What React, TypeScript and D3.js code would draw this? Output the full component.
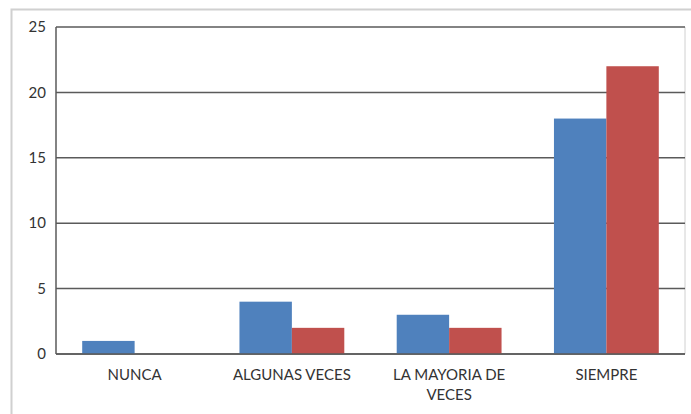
import React from "react";
import * as d3 from "d3";

const categories = ["NUNCA", "ALGUNAS VECES", "LA MAYORIA DE VECES", "SIEMPRE"];
const categoryLines = [["NUNCA"], ["ALGUNAS VECES"], ["LA MAYORIA DE", "VECES"], ["SIEMPRE"]];
const seriesA = [1, 4, 3, 18];
const seriesB = [0, 2, 2, 22];
const yTicks = [0, 5, 10, 15, 20, 25];

const W = 691;
const H = 414;
const left = 56;
const right = 685;
const top = 27;
const bottom = 354;

export default function App() {
  const x = d3.scaleBand<string>().domain(categories).range([left, right]).paddingInner(0).paddingOuter(0);
  const y = d3.scaleLinear().domain([0, 25]).range([bottom, top]);
  const bw = x.bandwidth();
  const inner = d3.scaleBand<string>().domain(["a", "b"]).range([bw / 6, bw - bw / 6]);
  const font = "Lato, 'Open Sans', sans-serif";
  return (
    <svg width={W} height={H} style={{ position: "absolute", left: 0, top: 0, background: "#fff" }}>
      <rect x={11.5} y={9.5} width={720} height={440} fill="#fff" stroke="#d0d0d0" strokeWidth={2} />
      <line x1={right} x2={right} y1={top} y2={bottom} stroke="#d0d0d0" strokeWidth={1} />
      {yTicks.map((t) => (
        <g key={t}>
          <line x1={left} x2={right} y1={y(t)} y2={y(t)} stroke="#5a5a5a" strokeWidth={1.5} />
          <text x={46} y={y(t)} dy="0.35em" textAnchor="end" fontFamily={font} fontSize={15} fill="#333">
            {t}
          </text>
        </g>
      ))}
      {categories.map((c, i) => (
        <g key={c}>
          <rect x={x(c)! + inner("a")!} y={y(seriesA[i])} width={inner.bandwidth()} height={y(0) - y(seriesA[i])} fill="#4F81BD" />
          <rect x={x(c)! + inner("b")!} y={y(seriesB[i])} width={inner.bandwidth()} height={y(0) - y(seriesB[i])} fill="#C0504D" />
          <text x={x(c)! + bw / 2} y={380} textAnchor="middle" fontFamily={font} fontSize={15} fill="#333">
            {categoryLines[i].map((l, j) => (
              <tspan key={j} x={x(c)! + bw / 2} dy={j === 0 ? 0 : 20}>
                {l}
              </tspan>
            ))}
          </text>
        </g>
      ))}
      <line x1={left} x2={left} y1={top} y2={bottom} stroke="#5a5a5a" strokeWidth={1.5} />
      <line x1={left} x2={right} y1={bottom} y2={bottom} stroke="#5a5a5a" strokeWidth={1.5} />
    </svg>
  );
}
